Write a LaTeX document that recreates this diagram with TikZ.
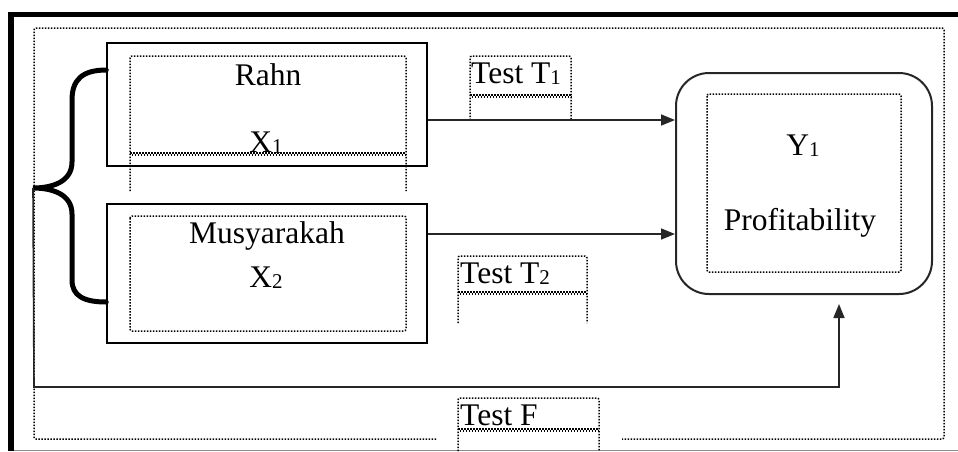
\documentclass[tikz,border=0pt]{standalone}
\usepackage{fontspec}
\setmainfont{Liberation Serif}
\usetikzlibrary{arrows.meta}
\newcommand\subd[1]{\raisebox{-1.5pt}{\fontsize{21}{21}\selectfont #1}}
\begin{document}
\begin{tikzpicture}[x=1pt,y=-1pt,
  solidbox/.style={draw=black,line width=1.5pt,inner sep=0pt},
  dotline/.style={line width=1.5pt,dash pattern=on 1.5pt off 1.5pt,black},
  conn/.style={line width=1.6pt,black!85,-{Triangle[length=14pt,width=11pt]}},
  txt/.style={inner sep=0pt,font=\fontsize{31.5}{36}\selectfont},
  brace/.style={line width=5pt,black,line cap=round}]
\useasboundingbox (0,0) rectangle (958,451);
% outer thick frame
\draw[line width=5pt] (8,14) -- (958,14);
\draw[line width=6pt] (11,12) -- (11,451);
\draw[black!45,line width=1pt] (14,450) -- (958,450);
% outer dotted frame
\draw[dotline,rounded corners=2pt] (436,439) -- (34,439) -- (34,28) -- (944,28) -- (944,439) -- (622,439);
% boxes
\node[solidbox,minimum width=320pt,minimum height=123pt] (rahn) at (267,104.5) {};
\node[solidbox,minimum width=320pt,minimum height=139pt] (mus) at (267,273.5) {};
\node[draw=black!85,line width=2pt,rounded corners=33pt,minimum width=256pt,minimum height=221pt,inner sep=0pt] (ybox) at (804,183.5) {};
% inner dotted frames
\draw[dotline,rounded corners=2pt] (130,191) -- (130,56) -- (406,56) -- (406,191);
\draw[dotline] (130,153) -- (406,153);
\draw[dotline,dash phase=1.5pt] (130,155) -- (406,155);
\draw[dotline,rounded corners=2pt] (130,216) rectangle (406,331);
\draw[dotline,rounded corners=2pt] (707,94) rectangle (901,272);
% test boxes
\draw[dotline,rounded corners=2pt] (470,120) -- (470,56) -- (571,56) -- (571,120);
\draw[dotline] (470,95) -- (571,95);
\draw[dotline,dash phase=1.5pt] (470,97) -- (571,97);
\draw[dotline,rounded corners=2pt] (458,323) -- (458,256) -- (587,256) -- (587,323);
\draw[dotline] (458,292) -- (587,292);
\draw[dotline,dash phase=1.5pt] (458,294) -- (587,294);
\draw[dotline,rounded corners=2pt] (458,451) -- (458,398) -- (599,398) -- (599,451);
\draw[dotline] (458,429) -- (599,429);
\draw[dotline,dash phase=1.5pt] (458,431) -- (599,431);
% texts
\node[txt,anchor=base] (trahn) at (268,85) {Rahn};
\node[txt,anchor=base] (tx1) at (266,152) {X\subd{1}};
\node[txt,anchor=base] (tmus) at (267,243) {Musyarakah};
\node[txt,anchor=base] (tx2) at (266,287) {X\subd{2}};
\node[txt,anchor=base] (ty1) at (803,155) {Y\subd{1}};
\node[txt,anchor=base] (tprof) at (800,230) {Profitability};
\node[txt,anchor=base west] (tt1) at (471,83) {Test\hspace{8pt}T\subd{1}};
\node[txt,anchor=base west] (tt2) at (460,283) {Test\hspace{8pt}T\subd{2}};
\node[txt,anchor=base west] (tf) at (460,425) {Test\hspace{8pt}F};
% brace
\coordinate (tip) at (33,188);
\draw[brace] (rahn.west |- 0,70) .. controls (82,70) and (72,80) .. (72,100) -- (72,162)
  .. controls (72,182) and (52,188) .. (tip)
  .. controls (52,188) and (72,194) .. (72,214) -- (72,280)
  .. controls (72,296) and (84,302) .. (mus.west |- 0,302);
% connectors
\draw[conn] (rahn.east |- 0,120) -- (ybox.west |- 0,120);
\draw[conn] (mus.east |- 0,234) -- (ybox.west |- 0,234);
\draw[conn] (tip) -- (34,387) -- (839,387) -- ([yshift=-9pt]ybox.south -| 839,0);
\end{tikzpicture}
\end{document}
